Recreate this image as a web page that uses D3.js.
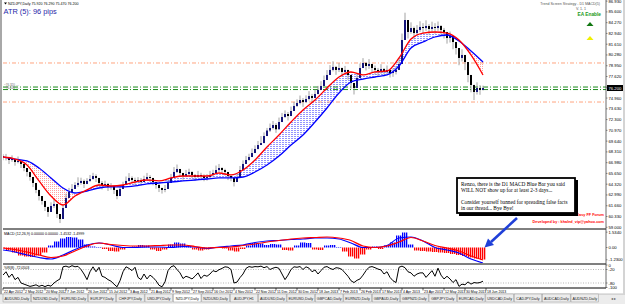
<!DOCTYPE html>
<html>
<head>
<meta charset="utf-8">
<script src="https://d3js.org/d3.v7.min.js"></script>
<style>
  html, body { margin: 0; padding: 0; background: #fff; overflow: hidden; }
  svg { display: block; font-family: "Liberation Sans", Arial, sans-serif; }
</style>
</head>
<body>
<svg id="chart" width="625" height="304"></svg>
<script>
// ---- data (NZDJPY daily, one entry every ~2 bars) ----

const closes = [
  67.68, 67.56, 67.31, 67.43, 67.06, 67.19, 66.82, 66.32, 65.83, 65.21,
  64.47, 63.61, 62.86, 62.25, 61.51, 60.89, 61.63, 61.88, 60.64, 60.02,
  61.38, 62.62, 63.36, 63.73, 64.22, 64.47, 64.72, 64.35, 64.72, 64.96,
  65.33, 65.09, 64.47, 64.22, 64.35, 63.98, 64.10, 63.61, 62.86, 63.73,
  64.22, 64.72, 65.09, 64.84, 64.72, 64.84, 64.59, 64.96, 65.21, 65.09,
  64.59, 64.22, 63.85, 63.61, 63.73, 64.47, 65.09, 65.83, 66.20, 65.70,
  65.33, 65.58, 65.83, 65.46, 65.21, 65.46, 65.33, 65.09, 65.21, 65.46,
  65.70, 66.07, 66.32, 66.07, 65.83, 65.33, 65.09, 64.59, 65.21, 66.07,
  66.82, 67.31, 67.68, 68.17, 68.67, 69.16, 69.40, 70.27, 70.95, 71.26,
  71.63, 71.10, 72.00, 72.62, 72.99, 72.74, 73.36, 73.98, 74.35, 74.72,
  74.47, 74.84, 75.21, 74.97, 75.46, 75.96, 76.45, 77.19, 77.81, 78.43,
  78.80, 78.43, 78.67, 78.18, 78.43, 77.81, 76.82, 76.20, 77.44, 78.67,
  79.29, 78.92, 79.17, 78.67, 78.43, 78.18, 78.55, 78.18, 78.43, 78.05,
  78.18, 78.43, 79.17, 82.13, 84.60, 83.12, 83.61, 82.99, 83.37, 83.74,
  83.61, 83.86, 83.49, 83.74, 83.61, 83.86, 83.37, 83.12, 82.38, 82.62,
  81.88, 81.14, 79.91, 80.28, 79.41, 77.81, 76.57, 75.71, 76.20, 75.96,
  76.20
]

const highs = [
  68.03, 68.06, 67.61, 67.88, 67.46, 67.74, 67.12, 66.82, 66.23, 65.81,
  64.92, 64.11, 63.21, 62.85, 61.91, 61.39, 62.08, 62.48, 60.99, 60.52,
  61.78, 63.17, 63.86, 64.33, 64.57, 65.17, 65.12, 64.90, 65.07, 65.46,
  65.73, 65.54, 64.77, 64.72, 64.75, 64.48, 64.45, 64.06, 63.26, 64.23,
  64.62, 65.27, 65.69, 65.29, 65.12, 65.19, 65.09, 65.36, 65.71, 65.44,
  65.04, 64.62, 64.35, 63.91, 64.23, 64.92, 65.59, 66.43, 66.75, 66.15,
  65.73, 66.08, 66.23, 65.91, 65.56, 65.96, 65.73, 65.54, 65.56, 65.96,
  66.10, 66.62, 66.82, 66.42, 66.23, 65.78, 65.39, 65.09, 65.61, 66.57,
  67.27, 67.81, 68.08, 68.72, 69.12, 69.66, 70.26, 70.72, 71.27, 71.81,
  72.13, 71.86, 72.55, 73.12, 73.44, 73.24, 73.91, 74.48, 74.80, 75.27,
  74.97, 75.29, 75.81, 75.47, 76.01, 76.46, 77.05, 77.74, 78.41, 79.03,
  79.50, 78.93, 79.27, 78.73, 78.93, 78.41, 77.32, 76.75, 78.04, 79.22,
  79.89, 79.42, 79.77, 79.17, 78.98, 78.68, 79.15, 78.68, 78.98, 78.55,
  78.63, 78.93, 79.87, 82.93, 85.50, 84.02, 84.31, 83.79, 83.97, 84.44,
  84.21, 84.56, 84.09, 84.39, 84.21, 84.41, 83.97, 83.62, 82.98, 83.17,
  82.48, 81.84, 80.71, 80.98, 80.21, 78.71, 77.37, 76.61, 76.90, 76.56,
  76.50
]

const lows = [
  67.28, 67.26, 66.81, 67.08, 66.61, 66.89, 66.32, 65.92, 65.28, 64.76,
  63.97, 63.21, 62.31, 61.80, 61.01, 60.29, 61.23, 61.38, 60.14, 59.52,
  60.93, 62.12, 62.96, 63.18, 63.82, 63.97, 64.27, 63.85, 64.32, 64.61,
  64.88, 64.59, 64.07, 63.67, 63.95, 63.48, 63.65, 63.11, 62.46, 63.28,
  63.82, 64.22, 64.64, 64.44, 64.22, 64.44, 64.14, 64.61, 64.76, 64.59,
  64.19, 63.77, 63.35, 63.16, 63.33, 63.97, 64.69, 65.38, 65.70, 65.30,
  64.88, 65.18, 65.33, 65.06, 64.76, 65.06, 64.83, 64.69, 64.76, 65.06,
  65.25, 65.67, 65.82, 65.67, 65.38, 64.83, 64.69, 64.04, 64.76, 65.57,
  66.37, 66.81, 67.23, 67.67, 68.22, 68.61, 69.16, 69.72, 70.27, 70.76,
  71.08, 70.66, 71.50, 72.07, 72.49, 72.19, 72.86, 73.43, 73.85, 74.17,
  73.87, 74.34, 74.66, 74.37, 74.96, 75.41, 75.95, 76.59, 77.26, 77.83,
  78.25, 77.83, 78.17, 77.58, 77.88, 77.21, 76.12, 75.40, 76.84, 78.12,
  78.69, 78.37, 78.57, 78.12, 77.83, 77.63, 77.95, 77.63, 77.83, 77.50,
  77.58, 77.88, 78.57, 81.33, 83.70, 82.32, 82.91, 82.19, 82.67, 83.14,
  82.91, 83.26, 82.79, 83.14, 82.91, 83.26, 82.67, 82.32, 81.68, 81.82,
  80.98, 80.34, 79.01, 79.48, 78.41, 76.91, 75.67, 74.71, 75.40, 75.36,
  75.90
]

// moving averages, one value every 4th entry above
const fastMa = [
  67.68, 67.43, 66.69, 64.72, 62.86, 61.75, 62.86, 63.61, 64.22, 64.10,
  64.22, 64.59, 64.84, 64.72, 65.09, 65.33, 65.33, 65.33, 65.70, 65.46,
  66.07, 67.31, 68.92, 70.40, 72.00, 73.49, 74.72, 76.20, 77.56, 78.18,
  77.81, 78.18, 78.30, 79.91, 82.25, 82.99, 83.12, 82.99, 82.13, 80.28,
  77.81
]
const slowMa = [
  67.68, 67.43, 67.19, 66.32, 65.09, 63.85, 63.23, 63.48, 63.85, 63.98,
  63.98, 64.10, 64.35, 64.47, 64.59, 64.72, 64.84, 64.96, 65.09, 65.09,
  65.21, 65.83, 66.69, 67.80, 69.16, 70.40, 72.00, 73.73, 75.58, 76.94,
  77.31, 77.56, 77.81, 78.92, 81.14, 81.88, 82.50, 82.75, 82.01, 80.77,
  79.41
]

// MACD lines, one value every 4th entry; histogram every 2nd entry
const macdMain = [
  -0.25, -0.45, -0.75, -1.00, -1.15, -0.75, -0.20, 0.25, 0.45, 0.25,
  0.00, 0.00, 0.05, 0.05, 0.00, 0.10, 0.05, -0.10, 0.05, 0.15,
  0.25, 0.50, 0.65, 0.70, 0.80, 0.85, 0.95, 0.95, 0.85, 0.45,
  0.00, 0.00, 0.20, 0.95, 1.05, 0.65, 0.00, -0.25, -0.55, -1.15,
  -1.55
]
const macdSignal = [
  -0.05, -0.20, -0.45, -0.75, -1.00, -0.85, -0.35, 0.15, 0.45, 0.30,
  0.20, 0.15, 0.15, 0.20, 0.25, 0.25, 0.10, -0.05, 0.00, 0.05,
  0.20, 0.35, 0.55, 0.70, 0.85, 0.95, 1.00, 1.05, 0.95, 0.70,
  0.15, 0.00, 0.15, 0.55, 1.00, 0.65, 0.20, -0.05, -0.35, -0.85,
  -1.25
]
const macdHist = [
  -0.10, -0.30, -0.50, -0.80, -0.90, -0.95, -0.80, -0.50, 0.20, 0.60,
  0.90, 1.05, 1.00, 0.80, 0.30, 0.10, 0.05, -0.15, -0.35, -0.40,
  -0.20, -0.05, 0.10, 0.25, 0.20, -0.20, -0.35, -0.20, 0.30, 0.50,
  0.40, 0.15, -0.20, -0.30, -0.20, -0.05, 0.05, -0.10, -0.30, -0.40,
  -0.15, 0.20, 0.45, 0.40, 0.25, 0.35, 0.30, -0.25, -0.30, 0.20,
  0.50, 0.45, -0.20, -0.25, 0.20, 0.25, 0.05, -0.40, -0.90, -1.10,
  -0.70, -0.20, 0.10, -0.15, 0.20, 0.50, 1.20, 1.50, 0.30, -0.30,
  -0.35, -0.40, -0.45, -0.50, -0.55, -0.65, -0.75, -0.85, -1.00, -1.10,
  -1.20
]

// Williams %R, same spacing as the price entries
const wpr = [
  -45, -30, -55, -40, -65, -55, -80, -85, -90, -95,
  -92, -88, -95, -90, -96, -90, -94, -80, -70, -62,
  -8, -5, -10, -3, -8, -6, -20, -40, -65, -30,
  -8, -30, -10, -50, -55, -65, -72, -85, -97, -70,
  -30, -8, -15, -25, -10, -55, -65, -40, -62, -45,
  -55, -70, -90, -97, -75, -25, -8, -3, -20, -35,
  -60, -50, -55, -62, -50, -35, -60, -45, -50, -40,
  -25, -30, -21, -15, -8, -10, -20, -80, -76, -56,
  -40, -15, -7, -10, -7, -8, -5, -12, -7, -20,
  -14, -10, -15, -40, -65, -45, -20, -8, -10, -7,
  -20, -8, -14, -30, -22, -40, -25, -10, -7, -15,
  -20, -12, -14, -20, -35, -50, -70, -78, -68, -62,
  -45, -25, -10, -7, -12, -18, -22, -40, -30, -55,
  -70, -78, -10, -5, -12, -30, -35, -50, -40, -35,
  -35, -55, -40, -25, -50, -14, -45, -62, -50, -62,
  -78, -65, -95, -85, -88, -75, -85, -78, -80, -78,
  -72
]

const dateLabels = [
  "22 Apr 2012", "2 May 2012", "20 May 2012", "7 Jun 2012", "26 Jun 2012",
  "15 Jul 2012", "3 Aug 2012", "21 Aug 2012", "9 Sep 2012", "27 Sep 2012",
  "16 Oct 2012", "4 Nov 2012", "22 Nov 2012", "11 Dec 2012", "30 Dec 2012",
  "18 Jan 2013", "7 Feb 2013", "26 Feb 2013", "17 Mar 2013", "4 Apr 2013",
  "23 Apr 2013", "12 May 2013", "30 May 2013", "18 Jun 2013"
]
const dateStep = 7   // entries between two date labels

const priceTicks = [
  86.93, 85.60, 84.27, 82.94, 81.61, 80.28, 78.95, 77.62, 76.29, 74.96,
  73.63, 72.30, 70.97, 69.64, 68.31, 66.98, 65.65, 64.32, 62.99, 61.66,
  60.33, 59.00
]
const macdTicks = [1.534, 0, -1.23]
const wprTicks = [0, -20, -80, -100]

// price levels drawn as dash-dot lines
const resistLevels = [79.29, 74.47]
const pivotLevels = [76.32, 76.01]
const lastPrice = 76.20

const tabNames = [
  "AUDUSD,Daily", "NZDUSD,Daily", "EURUSD,Daily", "EURJPY,Daily", "CHFJPY,Daily",
  "USDJPY,Daily", "NZDJPY,Daily", "NZDUSD,Daily", "AUDJPY,H1", "AUDUSD,Daily",
  "EURUSD,Daily", "GBPCAD,Daily", "EURNZD,Daily", "GBPAUD,Daily", "GBPNZD,Daily",
  "GBPJPY,Daily", "EURCAD,Daily", "USDCAD,Daily", "CADJPY,Daily", "AUDCAD,Daily",
  "AUDNZD,Daily"
]
const activeTab = "NZDJPY,Daily"

const noteLines = [
  "Renzo, there is the D1 MACD Blue Bar you said",
  "WILL NOT show up for at least 2-3 days...",
  "",
  "Consider yourself banned for spreading false facts",
  "in our thread...  Bye Bye!"
]

// ---- layout ----
const left = 3, axisX = 606
const main = {top: 0, bottom: 228}
const macdBox = {top: 229, bottom: 263}
const wprBox = {top: 264, bottom: 288}
const tabTop = 294

const colours = {
  fast: "#ff0000", slow: "#0000ff",
  bull: "#15157a", bear: "#000000", wick: "#8a8a8a",
  resist: "#ff9a70", pivot: "#1a8a1a"
}

const svg = d3.select('#chart')
const defs = svg.append('defs')

// hatching between the averages, stripes for the histogram
function pattern(id, w, h, rw, rh, col) {
  const p = defs.append('pattern').attr('id', id)
    .attr('patternUnits', 'userSpaceOnUse').attr('width', w).attr('height', h)
  p.append('rect').attr('width', rw).attr('height', rh).attr('fill', col)
}
pattern('hatchUp', 3, 2, 2, 0.8, '#7a7aff')
pattern('hatchDown', 2, 2, 1, 1, '#ffa0a0')
pattern('barUp', 2, 4, 1.3, 4, '#0000ff')
pattern('barDown', 2, 4, 1.3, 4, '#ff0000')

const x = d3.scaleLinear().domain([0, closes.length - 1]).range([left, 483])
const yP = d3.scaleLinear().domain([58.91, 87.07]).range([main.bottom, main.top])
const yM = d3.scaleLinear().domain([-1.55, 1.85]).range([macdBox.bottom, macdBox.top])
const yW = d3.scaleLinear().domain([-100, 0]).range([287.5, 265])

defs.append('clipPath').attr('id', 'clipMain').append('rect')
  .attr('x', left).attr('y', main.top).attr('width', axisX - left).attr('height', main.bottom - main.top)
defs.append('clipPath').attr('id', 'clipMacd').append('rect')
  .attr('x', left).attr('y', macdBox.top).attr('width', axisX - left).attr('height', macdBox.bottom - macdBox.top)
defs.append('clipPath').attr('id', 'clipWpr').append('rect')
  .attr('x', left).attr('y', wprBox.top).attr('width', axisX - left).attr('height', wprBox.bottom - wprBox.top)

svg.append('rect').attr('width', 625).attr('height', 304).attr('fill', '#fff')
svg.append('rect').attr('x', 0).attr('y', 0).attr('width', 2).attr('height', tabTop).attr('fill', '#a8a8a8')

// ---- main panel ----
const gMain = svg.append('g').attr('clip-path', 'url(#clipMain)')
const maX = (d, k) => x(4 * k)
const curve = d3.curveMonotoneX

defs.append('clipPath').attr('id', 'aboveSlow').append('path')
  .attr('d', d3.area().x(maX).y0(main.top).y1(d => yP(d)).curve(curve)(slowMa))
defs.append('clipPath').attr('id', 'belowSlow').append('path')
  .attr('d', d3.area().x(maX).y0(main.bottom).y1(d => yP(d)).curve(curve)(slowMa))

const band = d3.area().x(maX).y0((d, k) => yP(slowMa[k])).y1(d => yP(d)).curve(curve)
gMain.append('g').attr('clip-path', 'url(#aboveSlow)')
  .append('path').attr('d', band(fastMa)).attr('fill', 'url(#hatchUp)')
gMain.append('g').attr('clip-path', 'url(#belowSlow)')
  .append('path').attr('d', band(fastMa)).attr('fill', 'url(#hatchDown)')

// level lines
gMain.selectAll('line.resist').data(resistLevels).join('line')
  .attr('class', 'resist')
  .attr('x1', left).attr('x2', axisX).attr('y1', d => yP(d)).attr('y2', d => yP(d))
  .attr('stroke', colours.resist).attr('stroke-width', 0.9).attr('stroke-dasharray', '4,2,1,2')
gMain.selectAll('line.pivot').data(pivotLevels).join('line')
  .attr('class', 'pivot')
  .attr('x1', left).attr('x2', axisX).attr('y1', d => yP(d)).attr('y2', d => yP(d))
  .attr('stroke', colours.pivot).attr('stroke-width', 1).attr('stroke-dasharray', '5,2,1,2')
svg.selectAll('text.pivot').data(pivotLevels).join('text')
  .attr('class', 'pivot')
  .attr('x', 4).attr('y', d => yP(d) - 0.8)
  .attr('font-size', 3).attr('fill', '#666')
  .text(d => '~' + d.toFixed(3) + ' ---')

// candles
const bars = closes.map((c, i) => {
  const o = i ? closes[i - 1] : c + 0.12
  return {i, o, c, h: Math.max(highs[i], o, c), l: Math.min(lows[i], o, c)}
})
gMain.selectAll('line.wick').data(bars).join('line')
  .attr('class', 'wick')
  .attr('x1', d => x(d.i)).attr('x2', d => x(d.i))
  .attr('y1', d => yP(d.h)).attr('y2', d => yP(d.l))
  .attr('stroke', colours.wick).attr('stroke-width', 0.8)
gMain.selectAll('rect.body').data(bars).join('rect')
  .attr('class', 'body')
  .attr('x', d => x(d.i) - 1).attr('width', 2)
  .attr('y', d => yP(Math.max(d.o, d.c)))
  .attr('height', d => Math.max(1, Math.abs(yP(d.o) - yP(d.c))))
  .attr('fill', d => d.c >= d.o ? colours.bull : colours.bear)

const maLine = d3.line().x(maX).y(d => yP(d)).curve(curve)
gMain.append('path').attr('d', maLine(slowMa)).attr('fill', 'none')
  .attr('stroke', colours.slow).attr('stroke-width', 1.3)
gMain.append('path').attr('d', maLine(fastMa)).attr('fill', 'none')
  .attr('stroke', colours.fast).attr('stroke-width', 1.3)

// ---- MACD panel ----
const gMacd = svg.append('g').attr('clip-path', 'url(#clipMacd)')
gMacd.selectAll('rect.hist').data(macdHist).join('rect')
  .attr('class', 'hist')
  .attr('x', (d, k) => x(2 * k) - 3).attr('width', 6)
  .attr('y', d => Math.min(yM(d), yM(0)))
  .attr('height', d => Math.abs(yM(d) - yM(0)))
  .attr('fill', d => d > 0 ? 'url(#barUp)' : 'url(#barDown)')
const macdLine = d3.line().x(maX).y(d => yM(d)).curve(curve)
gMacd.append('path').attr('d', macdLine(macdMain)).attr('fill', 'none')
  .attr('stroke', '#0000ff').attr('stroke-width', 1.2)
gMacd.append('path').attr('d', macdLine(macdSignal)).attr('fill', 'none')
  .attr('stroke', '#ff0000').attr('stroke-width', 1.2)

// ---- Williams %R panel ----
const gWpr = svg.append('g').attr('clip-path', 'url(#clipWpr)')
gWpr.selectAll('line.level').data([-20, -80]).join('line')
  .attr('class', 'level')
  .attr('x1', left).attr('x2', axisX).attr('y1', d => yW(d)).attr('y2', d => yW(d))
  .attr('stroke', '#9a9a9a').attr('stroke-width', 0.7).attr('stroke-dasharray', '1,1.5')
gWpr.append('path')
  .attr('d', d3.line().x((d, i) => x(i)).y(d => yW(d))(wpr))
  .attr('fill', 'none').attr('stroke', '#000').attr('stroke-width', 1)

// panel frames
svg.selectAll('line.sep').data([macdBox.top, wprBox.top, wprBox.bottom]).join('line')
  .attr('class', 'sep')
  .attr('x1', left).attr('x2', axisX).attr('y1', d => d).attr('y2', d => d)
  .attr('stroke', '#000').attr('stroke-width', 1)
svg.append('line').attr('x1', axisX).attr('x2', axisX).attr('y1', 0).attr('y2', wprBox.bottom)
  .attr('stroke', '#444').attr('stroke-width', 0.8)

// ---- right axis ----
function rightTicks(cls, ticks, scale, fmt) {
  const g = svg.append('g').attr('font-size', 4.2).attr('fill', '#000')
  g.selectAll('text.' + cls).data(ticks).join('text').attr('class', cls)
    .attr('x', axisX + 2.5).attr('y', d => scale(d) + 1.5).text(fmt)
  g.selectAll('line.' + cls).data(ticks).join('line').attr('class', cls)
    .attr('x1', axisX).attr('x2', axisX + 1.5).attr('y1', d => scale(d)).attr('y2', d => scale(d))
    .attr('stroke', '#444').attr('stroke-width', 0.6)
}
rightTicks('pt', priceTicks, yP, d => d.toFixed(3))
rightTicks('mt', macdTicks, yM, d => d === 0 ? '0.00' : d.toFixed(4))
rightTicks('wt', wprTicks, yW, d => d)

svg.append('rect').attr('x', axisX + 1).attr('y', yP(lastPrice) - 3).attr('width', 18).attr('height', 6).attr('fill', '#000')
svg.append('text').attr('x', axisX + 2.5).attr('y', yP(lastPrice) + 1.5)
  .attr('font-size', 4.2).attr('fill', '#fff').text(lastPrice.toFixed(3))

// ---- date axis ----
const gDate = svg.append('g').attr('font-size', 3.5).attr('fill', '#000')
gDate.selectAll('line').data(dateLabels).join('line')
  .attr('x1', (d, j) => x(j * dateStep)).attr('x2', (d, j) => x(j * dateStep))
  .attr('y1', wprBox.bottom).attr('y2', wprBox.bottom + 2.5)
  .attr('stroke', '#000').attr('stroke-width', 0.6)
gDate.selectAll('text').data(dateLabels).join('text')
  .attr('x', (d, j) => x(j * dateStep) + 1).attr('y', 292.5).text(d => d)

// ---- texts on the chart ----
svg.append('path').attr('d', 'M4,2.5 L7,2.5 L5.5,4.5 Z').attr('fill', '#000')
svg.append('text').attr('x', 8).attr('y', 4.6).attr('font-size', 3.6).attr('fill', '#000')
  .text('NZDJPY,Daily  75.920 76.290 75.470 76.200')
svg.append('text').attr('x', 3.5).attr('y', 14.3).attr('font-size', 7.4).attr('fill', '#2626a8')
  .text('ATR (5): 96 pips')
svg.append('text').attr('x', 600).attr('y', 4.5).attr('font-size', 3.6).attr('fill', '#555')
  .attr('text-anchor', 'end').text('Trend Screen Strategy - D1 MACD(5)')
svg.append('text').attr('x', 586).attr('y', 9.5).attr('font-size', 3.6).attr('fill', '#555')
  .attr('text-anchor', 'end').text('V. 1. 1')
svg.append('text').attr('x', 601).attr('y', 16).attr('font-size', 4.8).attr('font-weight', 'bold')
  .attr('fill', '#1a9a1a').attr('text-anchor', 'end').text('EA Enable')
svg.append('path').attr('d', 'M586.5,26 L590,22 L593.5,26 Z').attr('fill', '#117711')
svg.append('path').attr('d', 'M586.5,40 L590,36 L593.5,40 Z').attr('fill', '#f0f000')

svg.append('text').attr('x', 604).attr('y', 215.5).attr('font-size', 3.8).attr('font-weight', 'bold')
  .attr('fill', '#ff0000').attr('text-anchor', 'end').text('AEasy FF Forum')
svg.append('text').attr('x', 604).attr('y', 222.5).attr('font-size', 3.8).attr('font-weight', 'bold')
  .attr('fill', '#ff0000').attr('text-anchor', 'end').text('Developed by : khaled_vip@yahoo.com')

svg.append('text').attr('x', 4).attr('y', 234.5).attr('font-size', 3.6).attr('fill', '#000')
  .text('MACD (12,26,9) 0.00000 0.00000 -1.4532 -1.4999')
svg.append('text').attr('x', 4).attr('y', 269).attr('font-size', 3.6).attr('fill', '#000')
  .text('%R(8) -72.0503')

// ---- note box and arrow ----
const note = svg.append('g')
note.append('rect').attr('x', 459).attr('y', 180).attr('width', 119).attr('height', 36).attr('fill', '#000')
note.append('rect').attr('x', 457).attr('y', 178).attr('width', 118).attr('height', 35)
  .attr('fill', '#fff').attr('stroke', '#000').attr('stroke-width', 1.8)
note.selectAll('text').data(noteLines).join('text')
  .attr('x', 461).attr('y', (d, i) => 186 + i * 6)
  .attr('font-family', '"Liberation Serif", "Times New Roman", serif')
  .attr('font-size', 5.3).attr('fill', '#000').text(d => d)

svg.append('line').attr('x1', 517).attr('y1', 218).attr('x2', 491).attr('y2', 242)
  .attr('stroke', '#1f3fd8').attr('stroke-width', 2.6)
svg.append('path').attr('d', 'M484.5,247.5 L488,238.5 L494,245 Z').attr('fill', '#1f3fd8')

// ---- symbol tabs ----
svg.append('rect').attr('x', 0).attr('y', tabTop).attr('width', 625).attr('height', 304 - tabTop).attr('fill', '#ececec')
svg.append('line').attr('x1', 0).attr('x2', 625).attr('y1', tabTop).attr('y2', tabTop).attr('stroke', '#a0a0a0').attr('stroke-width', 0.6)
const tabW = 28.4
const tabs = svg.append('g').selectAll('g').data(tabNames).join('g')
  .attr('transform', (d, i) => 'translate(' + (left + i * tabW) + ',' + tabTop + ')')
tabs.append('rect').attr('width', tabW - 0.8).attr('height', 8)
  .attr('fill', d => d === activeTab ? '#fff' : '#ececec')
  .attr('stroke', '#9a9a9a').attr('stroke-width', 0.5)
tabs.append('text').attr('x', (tabW - 0.8) / 2).attr('y', 5.6).attr('text-anchor', 'middle')
  .attr('font-size', 3.7).attr('fill', '#222').text(d => d)
svg.append('text').attr('x', 611).attr('y', 300).attr('font-size', 4).attr('fill', '#555').text('◂  ▸')
svg.append('rect').attr('x', 623).attr('y', 0).attr('width', 2).attr('height', tabTop).attr('fill', '#d4d4d4')
</script>
</body>
</html>
